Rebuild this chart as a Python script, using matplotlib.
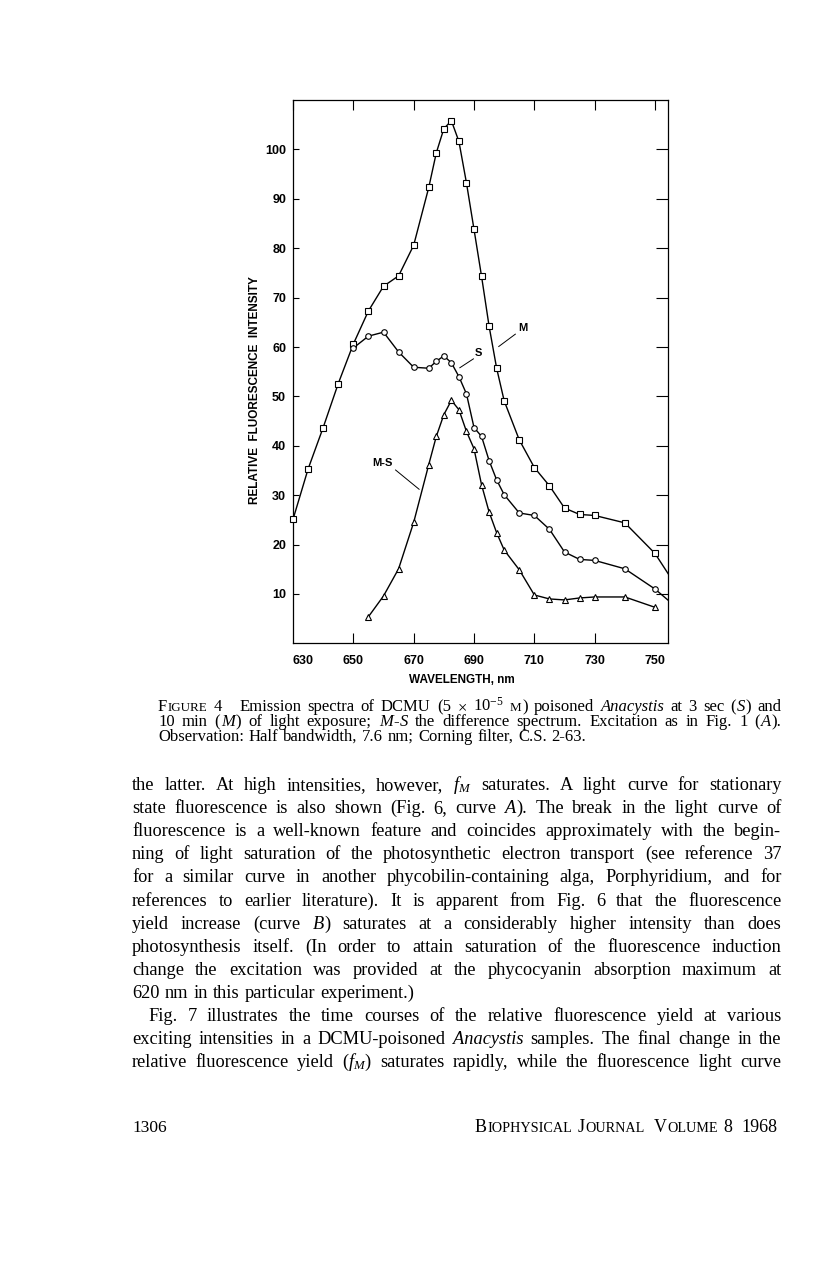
import re
import numpy as np
import matplotlib
matplotlib.use("Agg")
import matplotlib.pyplot as plt

W, H = 816, 1268
plt.rcParams["mathtext.fontset"] = "custom"
plt.rcParams["mathtext.rm"] = "Liberation Serif"
plt.rcParams["mathtext.it"] = "Liberation Serif:italic"
plt.rcParams["mathtext.bf"] = "Liberation Serif:bold"

# --- data ---
wl_m = [630, 635, 640, 645, 650, 655, 660, 665, 670, 675, 677.5, 680, 682.5, 685,
        687.5, 690, 692.5, 695, 697.5, 700, 705, 710, 715, 720, 725, 730, 740, 750]
m_vals = [25.1, 35.3, 43.7, 52.6, 60.6, 67.3, 72.3, 74.4, 80.6, 92.3, 99.3, 104.2, 105.8, 101.6,
          93.2, 83.8, 74.3, 64.2, 55.7, 49.1, 41.2, 35.6, 31.9, 27.4, 26.1, 25.9, 24.4, 18.2]

wl_s = [650, 655, 660, 665, 670, 675, 677.5, 680, 682.5, 685, 687.5, 690, 692.5, 695,
        697.5, 700, 705, 710, 715, 720, 725, 730, 740, 750]
s_vals = [59.8, 62.2, 63.0, 59.0, 55.9, 55.7, 57.1, 58.2, 56.8, 54.0, 50.5, 43.7, 41.9, 37.0,
          33.1, 30.1, 26.4, 25.9, 23.1, 18.5, 17.0, 16.8, 15.1, 11.0]

wl_d = [655, 660, 665, 670, 675, 677.5, 680, 682.5, 685, 687.5, 690, 692.5, 695, 697.5,
        700, 705, 710, 715, 720, 725, 730, 740, 750]
d_vals = [5.4, 9.6, 15.1, 24.5, 36.2, 41.9, 46.3, 49.2, 47.3, 42.9, 39.4, 32.1, 26.6, 22.4,
          18.9, 14.9, 9.8, 9.0, 8.8, 9.2, 9.4, 9.4, 7.3]

# curves run on to the right frame
wl_edge = 755
m_edge = 13.5
s_edge = 8.4

x_ticks = [630, 650, 670, 690, 710, 730, 750]
y_ticks = [10, 20, 30, 40, 50, 60, 70, 80, 90, 100]

# curve labels: (text, label pos, leader start, leader end)
curve_labels = [
    ("M", (706.2, 63.9), (698.2, 60.1), (703.7, 62.6)),
    ("S", (691.6, 58.7), (685.3, 55.8), (689.8, 57.6)),
    ("M-S", (659.7, 36.6), (671.8, 31.2), (664.0, 35.1)),
]

caption = [
    "F~igure~ 4   Emission spectra of DCMU (5 $\\times$ 10$^{-5}$ ~m~) poisoned *Anacystis* at 3 sec (*S*) and",
    "10 min (*M*) of light exposure; *M*-*S* the difference spectrum. Excitation as in Fig. 1 (*A*).",
    "Observation: Half bandwidth, 7.6 nm; Corning filter, C.S. 2-63.",
]
body = [
    "the latter. At high intensities, however, $f_M$ saturates. A light curve for stationary",
    "state fluorescence is also shown (Fig. 6, curve *A*). The break in the light curve of",
    "fluorescence is a well-known feature and coincides approximately with the begin-",
    "ning of light saturation of the photosynthetic electron transport (see reference 37",
    "for a similar curve in another phycobilin-containing alga, Porphyridium, and for",
    "references to earlier literature). It is apparent from Fig. 6 that the fluorescence",
    "yield increase (curve *B*) saturates at a considerably higher intensity than does",
    "photosynthesis itself. (In order to attain saturation of the fluorescence induction",
    "change the excitation was provided at the phycocyanin absorption maximum at",
    "620 nm in this particular experiment.)",
    "Fig. 7 illustrates the time courses of the relative fluorescence yield at various",
    "exciting intensities in a DCMU-poisoned *Anacystis* samples. The final change in the",
    "relative fluorescence yield ($f_M$) saturates rapidly, while the fluorescence light curve",
]
body_last = [9]     # lines ending a paragraph, not justified
body_indent = [10]  # first line of a paragraph
footer_left = "1306"
footer_right = "B~iophysical~ J~ournal~  V~olume~ 8  1968"

fig = plt.figure(figsize=(W / 100, H / 100), dpi=100)
renderer = fig.canvas.get_renderer()


def fx(px):
    return px / W


def fy(py):
    return 1 - py / H


# ---------------- chart ----------------
ax = fig.add_axes([fx(293), fy(643.4), (668 - 293) / W, (643.4 - 100) / H])
ax.set_xlim(630, 754.3)
ax.set_ylim(0, 110)

ax.plot(wl_m + [wl_edge], m_vals + [m_edge], color="k", lw=1.0)
ax.plot(wl_s + [wl_edge], s_vals + [s_edge], color="k", lw=1.0)
ax.plot(wl_d, d_vals, color="k", lw=1.0)
mk = dict(ls="none", mfc="white", mec="k", mew=0.8, clip_on=False, zorder=3)
ax.plot(wl_m, m_vals, marker="s", ms=4.3, **mk)
ax.plot(wl_s, s_vals, marker="o", ms=4.0, **mk)
ax.plot(wl_d, d_vals, marker="^", ms=4.3, **mk)

for txt, pos, p0, p1 in curve_labels:
    ax.plot([p0[0], p1[0]], [p0[1], p1[1]], color="k", lw=0.7)
    ax.text(pos[0], pos[1], txt, ha="center", va="center", fontsize=8,
            family="Liberation Sans", weight="bold")

tick_font = dict(family="Liberation Sans", weight="bold", size=9)
ax.set_xticks(x_ticks)
ax.set_xticklabels([str(v) for v in x_ticks], **tick_font)
ax.set_yticks(y_ticks)
ax.set_yticklabels([str(v) for v in y_ticks], **tick_font)
ax.tick_params(direction="in", top=True, right=True, length=7, width=0.8)
ax.tick_params(axis="x", pad=8)
ax.tick_params(axis="y", pad=5)
for t in ax.yaxis.get_major_ticks():
    t.tick1line.set_markersize(4)
    t.tick2line.set_markersize(8.5)
ax.xaxis.get_major_ticks()[0].tick1line.set_visible(False)
ax.xaxis.get_major_ticks()[-1].tick1line.set_visible(False)
ax.get_xticklabels()[0].set_ha("left")
for s in ax.spines.values():
    s.set_linewidth(0.9)

fig.text(fx(255), fy(390), "RELATIVE  FLUORESCENCE  INTENSITY", rotation=90,
         ha="center", va="center", fontsize=8.5, family="Liberation Sans", weight="bold")
fig.text(fx(462), fy(680), "WAVELENGTH, nm", ha="center", va="center",
         fontsize=8.5, family="Liberation Sans", weight="bold")


# ---------------- page text ----------------
def make_word(word, y, size):
    parts = [p for p in re.split(r"(\*[^*]+\*|~[^~]+~)", word) if p]
    out = []
    for p in parts:
        style, sz, txt = "normal", size, p
        if p.startswith("*"):
            style, txt = "italic", p[1:-1]
        elif p.startswith("~"):
            sz, txt = size * 0.78, p[1:-1].upper()
        t = fig.text(0, fy(y), txt, fontsize=sz, family="Liberation Serif",
                     style=style, va="baseline", ha="left")
        out.append((t, t.get_window_extent(renderer).width))
    return out


def space_width(size):
    a = fig.text(0, 0, "n n", fontsize=size, family="Liberation Serif")
    b = fig.text(0, 0, "nn", fontsize=size, family="Liberation Serif")
    w = a.get_window_extent(renderer).width - b.get_window_extent(renderer).width
    a.remove()
    b.remove()
    return w


def set_line(text, y, x0, x1, size, justify=True, align="left"):
    words = [make_word(w, y, size) if w else [] for w in text.split(" ")]
    widths = [sum(w + 0.6 for _, w in wd) for wd in words]
    gaps = len(words) - 1
    sp = space_width(size)
    total = sum(widths)
    if justify and gaps:
        gap = (x1 - x0 - total) / gaps
    else:
        gap = sp
    x = x0 if align == "left" else x1 - total - gap * gaps
    for wd in words:
        for t, w in wd:
            t.set_x(fx(x))
            x += w + 0.6
        x += gap


CL, BL, R = 158, 132, 782
cap_y = [711, 726, 741]
for i, line in enumerate(caption):
    set_line(line, cap_y[i], CL, R, 12, justify=(i < len(caption) - 1))

for i, line in enumerate(body):
    x0 = BL + (16 if i in body_indent else 0)
    set_line(line, 790 + 23.1 * i, x0, R, 13.2, justify=(i not in body_last))

set_line(footer_left, 1132, BL, R, 12.5, justify=False)
set_line(footer_right, 1132, BL, 778, 13, justify=False, align="right")

fig.savefig("out.png", dpi=100)
